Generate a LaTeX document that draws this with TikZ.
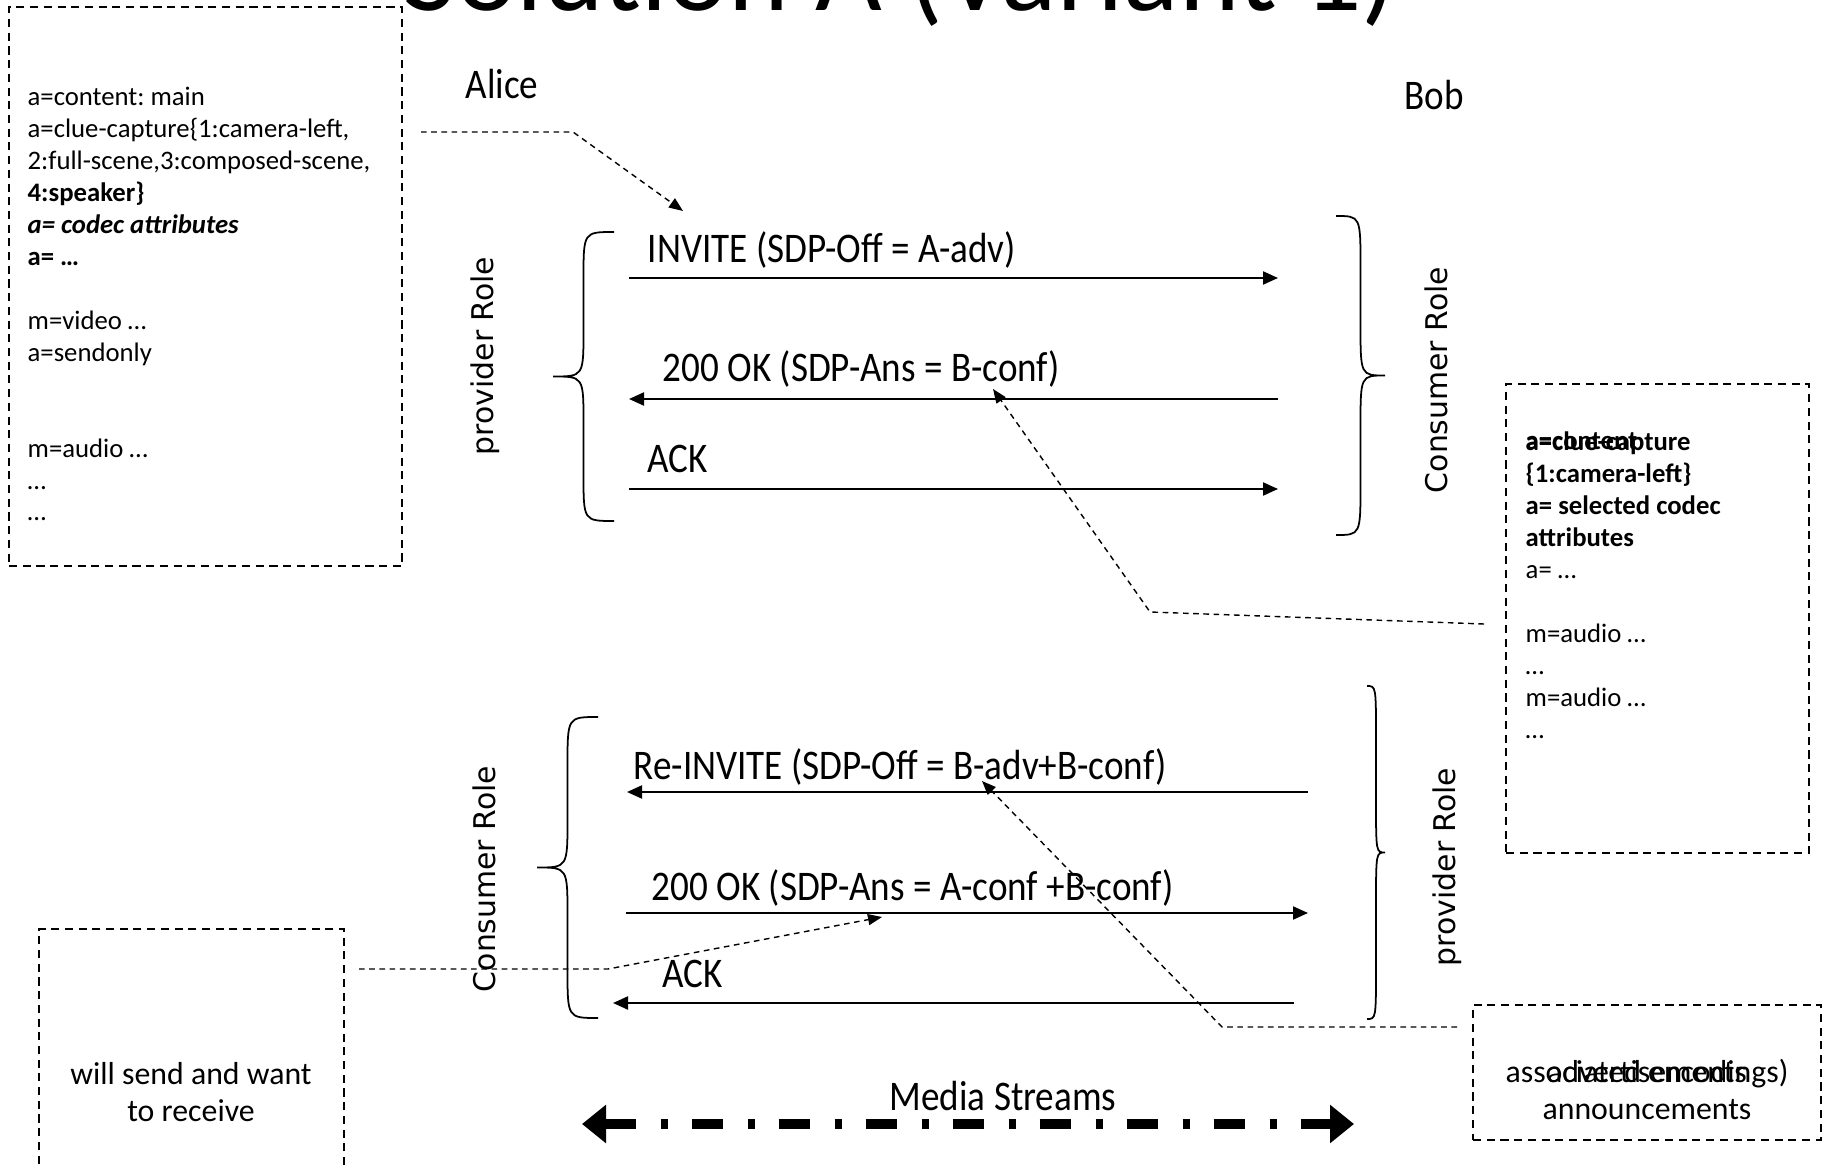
\documentclass[tikz,border=0pt]{standalone}
\usepackage{fontspec}
\setmainfont{Carlito}
\newfontfamily\condfont[FakeStretch=0.88]{Carlito}
\newfontfamily\rolefont{DejaVu Sans}
\usepackage{tikz}
\usetikzlibrary{arrows.meta, positioning}
\frenchspacing

\begin{document}
\begin{tikzpicture}[
    msg/.style      = {-{Triangle[length=0.15cm,width=0.13cm]}, line width=0.6pt},
    link/.style     = {-{Triangle[length=0.14cm,width=0.11cm]}, line width=0.4pt,
                       dash pattern=on 1.6pt off 1.3pt},
    notebox/.style  = {draw, line width=0.6pt, dash pattern=on 2.3pt off 1.6pt,
                       anchor=north west, inner sep=0pt},
    sdp/.style      = {font=\fontsize{7.6}{9.1}\selectfont, align=left,
                       anchor=base west, inner sep=0pt},
    msgtext/.style  = {font=\condfont\fontsize{12}{14}\selectfont, anchor=base west, inner sep=0pt},
    role/.style     = {font=\rolefont\fontsize{8.5}{10}\selectfont, rotate=90, inner sep=0pt},
    remark/.style   = {font=\fontsize{9.05}{10.5}\selectfont, align=center, anchor=base, inner sep=0pt},
    brace/.style    = {line width=0.5pt},
    media/.style    = {{Triangle[length=0.24cm,width=0.37cm]}-{Triangle[length=0.24cm,width=0.37cm]},
                       line width=2.6pt,
                       dash pattern=on 0.31cm off 0.25cm on 0.07cm off 0.24cm}
  ]
  \useasboundingbox (0,0) rectangle (18.22,-11.67);
  \clip (0,0) rectangle (18.22,-11.67);

  % ── Title and parties ─────────────────────────────────────────────────────
  \node[font=\fontsize{32.8}{36}\selectfont, anchor=base, inner sep=0pt] (title) at (9.00,-0.11)
    {Solution A (Variant 1)};
  \node[msgtext] (alice) at ( 4.65,-0.99) {Alice};
  \node[msgtext] (bob)   at (14.04,-1.10) {Bob};

  % ── Note boxes ────────────────────────────────────────────────────────────
  \node[notebox, minimum width=3.93cm, minimum height=5.59cm] (offerbox) at ( 0.08,-0.06) {};
  \node[notebox, minimum width=3.03cm, minimum height=4.69cm] (confbox)  at (15.05,-3.83) {};
  \node[notebox, minimum width=3.05cm, minimum height=2.60cm] (recvbox)  at ( 0.38,-9.28) {};
  \node[notebox, minimum width=3.48cm, minimum height=1.35cm] (annbox)   at (14.72,-10.04) {};

  % text nodes sit on the baseline of their last line
  \node[sdp] (offertext) at (0.27,-5.21) {a=content: main\\
    a=clue-capture\{1:camera-left,\\
    2:full-scene,3:composed-scene,\\
    \textbf{4:speaker\}}\\
    \textbf{\textit{a= codec attributes}}\\
    \textbf{a= \dots}\\
    ~\\
    m=video \dots\\
    a=sendonly\\
    ~\\
    ~\\
    m=audio \dots\\
    \dots\\
    \dots};

  \node[sdp] (conftext) at (15.25,-7.38) {\textbf{a=clue-capture}\\
    \textbf{\{1:camera-left\}}\\
    \textbf{a= selected codec}\\
    \textbf{attributes}\\
    a= \dots\\
    ~\\
    m=audio \dots\\
    \dots\\
    m=audio \dots\\
    \dots};
  \node[sdp] (confover) at (15.25,-4.50) {\textbf{a=content}};

  \node[remark] (recvtext) at (1.91,-11.21) {will send and want\\to receive};
  \node[remark] (anntext)  at (16.47,-11.19) {associated encodings)\\announcements};
  \node[remark] (annover)  at (16.47,-10.82) {advertisements};

  % ── Roles ─────────────────────────────────────────────────────────────────
  \node[role] (roleA1) at ( 4.85,-3.56) {provider Role};
  \node[role] (roleB1) at (14.36,-3.80) {Consumer Role};
  \node[role] (roleA2) at ( 4.84,-8.79) {Consumer Role};
  \node[role] (roleB2) at (14.47,-8.67) {provider Role};

  % ── Braces ────────────────────────────────────────────────────────────────
  \foreach \xe/\xt/\yt/\yb in {6.14/5.53/-2.32/-5.21, 13.36/13.85/-2.16/-5.35,
                               5.98/5.37/-7.17/-10.18, 13.67/13.85/-6.86/-10.19} {
    \pgfmathsetmacro\xm{(\xe+\xt)/2}
    \pgfmathsetmacro\ym{(\yt+\yb)/2}
    \pgfmathsetmacro\bh{(\yt-\yb)*0.16}
    \draw[brace] (\xe,\yt) .. controls (\xm,\yt) .. (\xm,\yt-\bh) -- (\xm,\ym+\bh)
      .. controls (\xm,\ym) .. (\xt,\ym) .. controls (\xm,\ym) .. (\xm,\ym-\bh)
      -- (\xm,\yb+\bh) .. controls (\xm,\yb) .. (\xe,\yb);
  }

  % ── Messages ──────────────────────────────────────────────────────────────
  \coordinate (A1) at ( 6.29,-2.78);  \coordinate (B1) at (12.78,-2.78);
  \coordinate (A2) at ( 6.29,-3.99);  \coordinate (B2) at (12.78,-3.99);
  \coordinate (A3) at ( 6.29,-4.89);  \coordinate (B3) at (12.78,-4.89);
  \coordinate (A4) at ( 6.27,-7.92);  \coordinate (B4) at (13.08,-7.92);
  \coordinate (A5) at ( 6.26,-9.13);  \coordinate (B5) at (13.08,-9.13);
  \coordinate (A6) at ( 6.13,-10.03); \coordinate (B6) at (12.94,-10.03);

  % offer / answer
  \draw[msg] (A1) -- (B1);
  \node[msgtext] (invite) at (6.47,-2.63) {INVITE (SDP-Off = A-adv)};
  \draw[msg] (B2) -- (A2);
  \node[msgtext] (okB) at (6.62,-3.82) {200 OK (SDP-Ans = B-conf)};
  \draw[msg] (A3) -- (B3);
  \node[msgtext] (ackA) at (6.47,-4.73) {ACK};
  % re-offer / answer
  \draw[msg] (B4) -- (A4);
  \node[msgtext] (reinvite) at (6.33,-7.79) {Re-INVITE (SDP-Off = B-adv+B-conf)};
  \draw[msg] (A5) -- (B5);
  \node[msgtext] (okA) at (6.51,-9.00) {200 OK (SDP-Ans = A-conf +B-conf)};
  \draw[msg] (B6) -- (A6);
  \node[msgtext] (ackB) at (6.62,-9.87) {ACK};

  % ── Note links ────────────────────────────────────────────────────────────
  \coordinate (offerout) at ( 4.21,-1.32);  \coordinate (offerhit) at (6.83,-2.11);
  \coordinate (confout)  at (14.84,-6.24);  \coordinate (confhit)  at (9.93,-3.89);
  \coordinate (annout)   at (14.57,-10.27); \coordinate (annhit)   at (9.82,-7.81);
  \coordinate (recvout)  at ( 3.59,-9.69);  \coordinate (recvhit)  at (8.82,-9.17);
  \draw[link] (offerout) -- (5.73,-1.32)  -- (offerhit);
  \draw[link] (confout)  -- (11.50,-6.12) -- (confhit);
  \draw[link] (annout)   -- (12.22,-10.27) -- (annhit);
  \draw[link] (recvout)  -- (6.08,-9.69)  -- (recvhit);

  % ── Media ─────────────────────────────────────────────────────────────────
  \coordinate (mediaA) at ( 5.82,-11.24);
  \coordinate (mediaB) at (13.54,-11.24);
  \draw[media] (mediaA) -- (mediaB);
  \node[msgtext, anchor=base] (mediatext) at (10.03,-11.10) {Media Streams};

\end{tikzpicture}
\end{document}
